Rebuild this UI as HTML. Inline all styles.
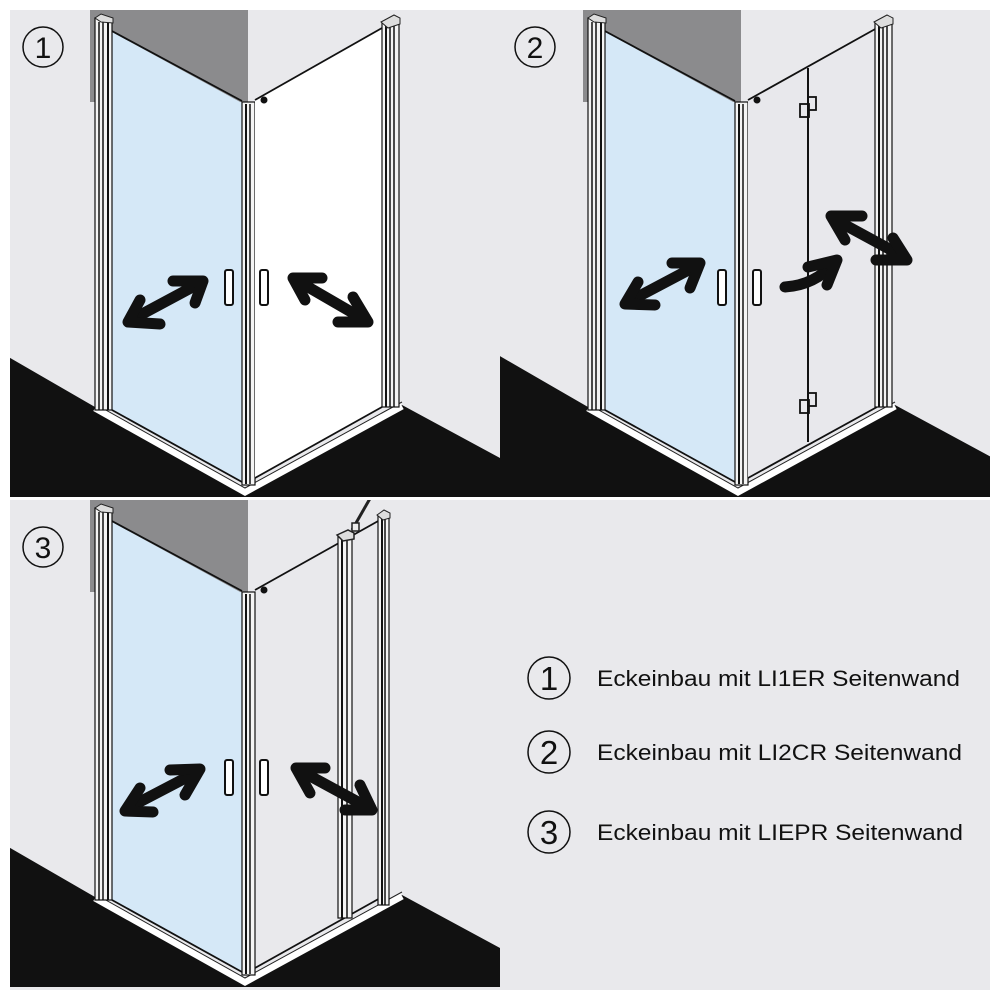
<!DOCTYPE html>
<html><head><meta charset="utf-8"><style>
html,body{margin:0;padding:0;background:#fff}
svg{display:block}
text{font-family:"Liberation Sans",sans-serif}
</style></head><body>
<svg width="1000" height="1000" viewBox="0 0 1000 1000" xmlns="http://www.w3.org/2000/svg">
<defs>
<g id="frame">
  <rect x="90" y="10" width="158" height="92" fill="#8b8b8d"/>
  <polygon points="5,355 95,407 245,493 402,405 500,458 500,497 5,497" fill="#111"/>
  <polyline points="95,408 245,492 402,406" fill="none" stroke="#fff" stroke-width="7"/>
  <polyline points="95,404 245,488 402,402" fill="none" stroke="#222" stroke-width="1"/>
  <polygon points="112,32 242,103 242,482 112,410" fill="#d5e8f7"/>
  <line x1="110" y1="30" x2="242" y2="101" stroke="#111" stroke-width="1.8"/>
  <line x1="112" y1="410" x2="242" y2="482" stroke="#111" stroke-width="1.8"/>
  <rect x="95" y="18" width="17" height="392" fill="#f4f4f4" stroke="#111" stroke-width="1.2"/>
  <line x1="99" y1="22" x2="99" y2="410" stroke="#111" stroke-width="1.5"/>
  <line x1="103" y1="22" x2="103" y2="410" stroke="#111" stroke-width="1.5"/>
  <line x1="108" y1="22" x2="108" y2="410" stroke="#111" stroke-width="2"/>
  <polygon points="95,18 101,14 113,18 113,23 101,22" fill="#ddd" stroke="#222" stroke-width="1"/>
  <rect x="242" y="102" width="13" height="383" fill="#f4f4f4" stroke="#111" stroke-width="1.2"/>
  <line x1="246" y1="104" x2="246" y2="484" stroke="#111" stroke-width="2"/>
  <line x1="250" y1="104" x2="250" y2="484" stroke="#111" stroke-width="1.5"/>
</g>
<g id="handles">
  <rect x="225" y="270" width="8" height="35" rx="2" fill="#fff" stroke="#111" stroke-width="2"/>
  <rect x="260" y="270" width="8" height="35" rx="2" fill="#fff" stroke="#111" stroke-width="2"/>
  <circle cx="264" cy="100" r="3.5" fill="#111"/>
</g>
<g id="rprof">
  <rect x="382" y="22" width="17" height="385" fill="#f4f4f4" stroke="#111" stroke-width="1.2"/>
  <line x1="386" y1="26" x2="386" y2="407" stroke="#111" stroke-width="2"/>
  <line x1="390" y1="26" x2="390" y2="407" stroke="#111" stroke-width="1.5"/>
  <line x1="394" y1="26" x2="394" y2="407" stroke="#111" stroke-width="1.5"/>
  <polygon points="381,22 394,15 400,18 400,24 388,28" fill="#ddd" stroke="#222" stroke-width="1"/>
</g>
</defs>

<rect x="10" y="10" width="490" height="487" fill="#e9e9ec"/>
<rect x="500" y="10" width="490" height="487" fill="#e9e9ec"/>
<rect x="10" y="500" width="980" height="490" fill="#e9e9ec"/>

<!-- Panel 1 -->
<svg x="10" y="10" width="490" height="487" viewBox="10 10 490 487" overflow="hidden">
  <use href="#frame"/>
  <polygon points="255,100 382,28 382,407 255,478" fill="#fff"/>
  <line x1="255" y1="100" x2="382" y2="28" stroke="#111" stroke-width="1.8"/>
  <line x1="255" y1="478" x2="382" y2="407" stroke="#111" stroke-width="1.8"/>
  <use href="#rprof"/>
  <use href="#handles"/>
</svg>
<g fill="none" stroke="#111" stroke-width="11" stroke-linecap="round" stroke-linejoin="round">
  <line x1="200" y1="283" x2="131" y2="320"/>
  <polyline points="173,281 203,281 195,303"/>
  <polyline points="140,300 128,322 160,324"/>
  <line x1="296" y1="280" x2="365" y2="320"/>
  <polyline points="322,278 293,278 305,300"/>
  <polyline points="338,322 368,322 353,297"/>
</g>
<circle cx="43" cy="47" r="20" fill="none" stroke="#111" stroke-width="1.5"/>
<text x="43" y="58" font-size="30" text-anchor="middle" fill="#111">1</text>

<!-- Panel 2 -->
<svg x="500" y="10" width="490" height="487" viewBox="7 10 490 487" overflow="hidden">
  <use href="#frame"/>
  <polygon points="255,100 384,28 384,407 255,478" fill="#e8e8ec"/>
  <line x1="255" y1="100" x2="384" y2="28" stroke="#111" stroke-width="1.8"/>
  <line x1="255" y1="478" x2="384" y2="407" stroke="#111" stroke-width="1.8"/>
  <line x1="315" y1="68" x2="315" y2="442" stroke="#111" stroke-width="2"/>
  <rect x="307" y="104" width="9" height="13" fill="none" stroke="#111" stroke-width="1.8"/>
  <rect x="315" y="97" width="8" height="13" fill="none" stroke="#111" stroke-width="1.8"/>
  <rect x="307" y="400" width="9" height="13" fill="none" stroke="#111" stroke-width="1.8"/>
  <rect x="315" y="393" width="8" height="13" fill="none" stroke="#111" stroke-width="1.8"/>
  <use href="#rprof"/>
  <use href="#handles"/>
</svg>
<g fill="none" stroke="#111" stroke-width="11" stroke-linecap="round" stroke-linejoin="round">
  <line x1="698" y1="265" x2="628" y2="302"/>
  <polyline points="672,263 700,263 690,288"/>
  <polyline points="638,282 625,304 655,305"/>
  <path d="M785,287 Q815,285 834,263"/>
  <polyline points="808,267 837,260 827,285"/>
  <line x1="834" y1="219" x2="904" y2="257"/>
  <polyline points="862,216 831,216 845,240"/>
  <polyline points="876,260 907,260 893,238"/>
</g>
<circle cx="535" cy="47" r="20" fill="none" stroke="#111" stroke-width="1.5"/>
<text x="535" y="58" font-size="30" text-anchor="middle" fill="#111">2</text>

<!-- Panel 3 -->
<svg x="10" y="500" width="490" height="490" viewBox="10 10 490 490" overflow="hidden">
  <use href="#frame"/>
  <line x1="255" y1="100" x2="380" y2="30" stroke="#111" stroke-width="1.8"/>
  <line x1="255" y1="478" x2="382" y2="407" stroke="#111" stroke-width="1.8"/>
  <rect x="338" y="45" width="14" height="383" fill="#f4f4f4" stroke="#111" stroke-width="1.2"/>
  <line x1="342" y1="48" x2="342" y2="428" stroke="#111" stroke-width="2"/>
  <line x1="347" y1="48" x2="347" y2="428" stroke="#111" stroke-width="1.5"/>
  <polygon points="337,45 348,40 354,43 354,49 343,51" fill="#ddd" stroke="#222" stroke-width="1.5"/>
  <rect x="378" y="25" width="11" height="390" fill="#f4f4f4" stroke="#111" stroke-width="1.2"/>
  <line x1="382" y1="28" x2="382" y2="415" stroke="#111" stroke-width="2"/>
  <line x1="385" y1="28" x2="385" y2="415" stroke="#111" stroke-width="1.5"/>
  <polygon points="377,25 384,20 390,23 390,28 383,30" fill="#ddd" stroke="#222" stroke-width="1"/>
  <line x1="352" y1="40" x2="372" y2="5" stroke="#222" stroke-width="3"/>
  <rect x="352" y="33" width="7" height="8" fill="#eee" stroke="#222" stroke-width="1.5"/>
  <use href="#handles"/>
</svg>
<g fill="none" stroke="#111" stroke-width="11" stroke-linecap="round" stroke-linejoin="round">
  <line x1="197" y1="772" x2="128" y2="808"/>
  <polyline points="170,770 200,769 185,795"/>
  <polyline points="140,788 125,811 153,812"/>
  <line x1="299" y1="770" x2="369" y2="808"/>
  <polyline points="325,768 296,768 310,793"/>
  <polyline points="345,810 372,810 360,785"/>
</g>
<circle cx="43" cy="547" r="20" fill="none" stroke="#111" stroke-width="1.5"/>
<text x="43" y="558" font-size="30" text-anchor="middle" fill="#111">3</text>

<!-- Legend -->
<circle cx="549" cy="678" r="21" fill="none" stroke="#111" stroke-width="1.5"/>
<text x="549" y="690" font-size="33" text-anchor="middle" fill="#111">1</text>
<text x="597" y="686" font-size="22" fill="#111" textLength="363" lengthAdjust="spacingAndGlyphs">Eckeinbau mit LI1ER Seitenwand</text>
<circle cx="549" cy="752" r="21" fill="none" stroke="#111" stroke-width="1.5"/>
<text x="549" y="764" font-size="33" text-anchor="middle" fill="#111">2</text>
<text x="597" y="760" font-size="22" fill="#111" textLength="365" lengthAdjust="spacingAndGlyphs">Eckeinbau mit LI2CR Seitenwand</text>
<circle cx="549" cy="832" r="21" fill="none" stroke="#111" stroke-width="1.5"/>
<text x="549" y="844" font-size="33" text-anchor="middle" fill="#111">3</text>
<text x="597" y="840" font-size="22" fill="#111" textLength="366" lengthAdjust="spacingAndGlyphs">Eckeinbau mit LIEPR Seitenwand</text>
</svg>
</body></html>
